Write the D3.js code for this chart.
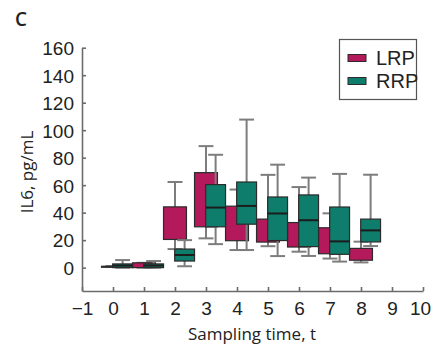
<!DOCTYPE html>
<html>
<head>
<meta charset="utf-8">
<script src="https://cdn.jsdelivr.net/npm/d3@7"></script>
<style>
  body { margin: 0; background: #fff; }
  svg { display: block; }
</style>
</head>
<body>
<div id="chart"></div>
<script>
// sampling times and tick labels
let times = [0, 1, 2, 3, 4, 5, 6, 7, 8];
let xTicks = [-1, 0, 1, 2, 3, 4, 5, 6, 7, 8, 9, 10];
let yTicks = [0, 20, 40, 60, 80, 100, 120, 140, 160];
let seriesNames = ['LRP', 'RRP'];

// LRP box plot values (pg/mL)
let lrpMin = [1, 0, 13.5, 21.3, 12.8, 15.6, 11.6, 6.6, 3.8];
let lrpQ1 = [1, 0, 20.5, 29.7, 19.6, 18.6, 15, 10.1, 5.4];
let lrpMed = [1, 1, 21, 45, 30, 25, 22, 17, 8];
let lrpQ3 = [1, 3.5, 44.2, 69.1, 44.7, 35.3, 32.8, 29, 14];
let lrpMax = [1, 3.5, 62.3, 88.4, 56.8, 67.5, 58.6, 39.5, 18.9];

// RRP box plot values (pg/mL)
let rrpMin = [0, 0, 1, 17.1, 12.8, 8.4, 8.5, 4.4, 15.7];
let rrpQ1 = [0, 0, 4.8, 29.7, 31.6, 19.7, 15.3, 9.7, 18.7];
let rrpMed = [1.5, 1.5, 9.2, 43.7, 44.9, 39.4, 34.5, 19.1, 27.1];
let rrpQ3 = [2.7, 2.7, 13.5, 60.4, 62.3, 51.4, 52.9, 44.1, 35.3];
let rrpMax = [5.5, 4.8, 20, 82.1, 107.7, 74.9, 65.5, 68.2, 67.6];

let colors = { LRP: '#b3195b', RRP: '#0f7d6c' };

let tickFont = '"Liberation Sans Narrow", "Arial Narrow", "Liberation Sans", sans-serif';
let titleFont = '"Open Sans", "Noto Sans", sans-serif';

let svg = d3.select('#chart').append('svg')
    .attr('width', 432)
    .attr('height', 350);

let x = d3.scaleLinear().domain([-1, 10]).range([82, 423]);
let y = d3.scaleLinear().domain([-17, 160]).range([291, 47.7]);

let makeSeries = (name, mins, q1s, meds, q3s, maxs) => times.map((t, i) => ({
    name: name, t: t, min: mins[i], q1: q1s[i], med: meds[i], q3: q3s[i], max: maxs[i]
}));

let series = [
    { name: 'LRP', offset: 0, width: 0.74, showMedian: false,
      data: makeSeries('LRP', lrpMin, lrpQ1, lrpMed, lrpQ3, lrpMax) },
    { name: 'RRP', offset: 0.31, width: 0.64, showMedian: true,
      data: makeSeries('RRP', rrpMin, rrpQ1, rrpMed, rrpQ3, rrpMax) }
];

let capHalf = 0.24;

// axes
let xAxis = svg.append('g')
    .attr('transform', `translate(0,${y(-17)})`)
    .call(d3.axisBottom(x).tickValues(xTicks).tickSizeInner(-4).tickSizeOuter(0)
        .tickFormat(d => d < 0 ? '\u2212' + Math.abs(d) : d));
let yAxis = svg.append('g')
    .attr('transform', `translate(${x(-1)},0)`)
    .call(d3.axisLeft(y).tickValues(yTicks).tickSizeInner(-4).tickSizeOuter(0));

[xAxis, yAxis].forEach(a => {
    a.select('.domain').attr('stroke', '#6b6b6b').attr('stroke-width', 1.6);
    a.selectAll('.tick line').attr('stroke', '#6b6b6b').attr('stroke-width', 1.6);
    a.selectAll('.tick text')
        .attr('fill', '#222')
        .style('font-family', tickFont)
        .style('font-size', '19px');
});
xAxis.selectAll('.tick text').attr('dy', null).attr('y', 24)
    .attr('x', d => d === 10 ? -3 : 0);
yAxis.selectAll('.tick text').attr('x', -8).attr('dy', '0.36em');

// box plots
series.forEach(s => {
    let g = svg.append('g').attr('class', 'series-' + s.name);
    let items = g.selectAll('g').data(s.data).enter().append('g');

    items.append('line')
        .attr('x1', d => x(d.t + s.offset)).attr('x2', d => x(d.t + s.offset))
        .attr('y1', d => y(d.min)).attr('y2', d => y(d.max))
        .attr('stroke', '#7d7d7d').attr('stroke-width', 2);
    ['min', 'max'].forEach(k => {
        items.append('line')
            .attr('x1', d => x(d.t + s.offset - capHalf)).attr('x2', d => x(d.t + s.offset + capHalf))
            .attr('y1', d => y(d[k])).attr('y2', d => y(d[k]))
            .attr('stroke', '#7d7d7d').attr('stroke-width', 2);
    });

    items.append('rect')
        .attr('x', d => x(d.t + s.offset - s.width / 2))
        .attr('width', x(s.width) - x(0))
        .attr('y', d => y(d.q3))
        .attr('height', d => Math.max(1, y(d.q1) - y(d.q3)))
        .attr('fill', colors[s.name])
        .attr('stroke', '#2b2b2b').attr('stroke-width', 1.2);

    items.append('line')
        .attr('x1', d => x(d.t + s.offset - s.width / 2)).attr('x2', d => x(d.t + s.offset + s.width / 2))
        .attr('y1', d => y(d.med)).attr('y2', d => y(d.med))
        .attr('stroke', s.showMedian ? '#1c1c1c' : colors[s.name])
        .attr('stroke-width', s.showMedian ? 2 : 0);
});

// legend
let legend = svg.append('g');
legend.append('rect')
    .attr('x', 339.5).attr('y', 39.5).attr('width', 77).attr('height', 60)
    .attr('fill', '#fff').attr('stroke', '#555').attr('stroke-width', 1.2);
let entries = legend.selectAll('g.entry').data(seriesNames).enter().append('g')
    .attr('class', 'entry')
    .attr('transform', (d, i) => `translate(348,${58 + i * 23})`);
entries.append('rect')
    .attr('x', 0).attr('y', -3.5).attr('width', 18).attr('height', 7)
    .attr('fill', d => colors[d]).attr('stroke', '#2b2b2b').attr('stroke-width', 1);
entries.append('text')
    .attr('x', 28).attr('y', 0).attr('dy', '0.36em')
    .style('font-family', tickFont).style('font-size', '20px')
    .attr('fill', '#222')
    .text(d => d);

// titles
svg.append('text')
    .attr('x', 252).attr('y', 340)
    .attr('text-anchor', 'middle')
    .style('font-family', titleFont).style('font-size', '17px')
    .attr('fill', '#222')
    .text('Sampling time, t');
svg.append('text')
    .attr('transform', 'translate(33,172) rotate(-90)')
    .attr('text-anchor', 'middle')
    .style('font-family', titleFont).style('font-size', '17px')
    .attr('fill', '#222')
    .text('IL6, pg/mL');
svg.append('text')
    .attr('x', 15).attr('y', 26)
    .style('font-family', titleFont).style('font-size', '19px').style('font-weight', 600)
    .attr('fill', '#222')
    .text('C');
</script>
</body>
</html>
